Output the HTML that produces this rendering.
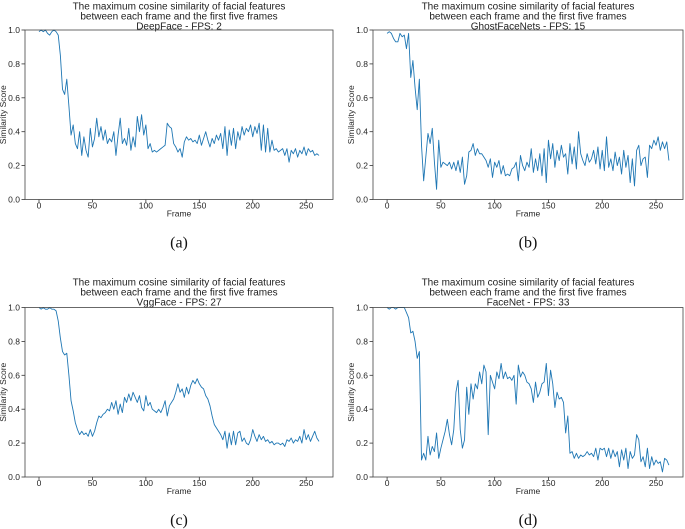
<!DOCTYPE html>
<html><head><meta charset="utf-8"><style>
html,body{margin:0;padding:0;background:#fff;}
svg{display:block;font-family:"Liberation Sans","DejaVu Sans",sans-serif;}
</style></head><body>
<svg id="chart" width="685" height="529" viewBox="0 0 685 529" xmlns="http://www.w3.org/2000/svg"></svg>
<script>
const yTicks = [0.0, 0.2, 0.4, 0.6, 0.8, 1.0];
const xTicks = [0, 50, 100, 150, 200, 250];
const frameStep = 2;
const deepFace = [0.99,1.0,0.99,1.0,0.98,0.97,0.99,1.0,0.99,0.97,
0.85,0.65,0.62,0.71,0.55,0.38,0.44,0.33,0.30,0.40,
0.26,0.37,0.29,0.25,0.42,0.31,0.36,0.48,0.37,0.43,
0.35,0.41,0.33,0.36,0.34,0.40,0.26,0.38,0.48,0.33,
0.36,0.32,0.42,0.29,0.37,0.31,0.49,0.40,0.50,0.38,
0.44,0.30,0.33,0.28,0.29,0.28,0.29,0.30,0.31,0.32,
0.45,0.43,0.42,0.33,0.31,0.28,0.30,0.25,0.34,0.37,
0.35,0.36,0.34,0.35,0.33,0.38,0.32,0.36,0.40,0.35,
0.31,0.36,0.33,0.38,0.35,0.39,0.30,0.43,0.26,0.41,
0.32,0.42,0.30,0.40,0.35,0.43,0.38,0.42,0.40,0.44,
0.37,0.43,0.39,0.45,0.29,0.44,0.28,0.42,0.28,0.35,
0.29,0.30,0.28,0.29,0.30,0.26,0.30,0.22,0.29,0.27,
0.30,0.25,0.29,0.27,0.31,0.26,0.30,0.28,0.29,0.26,
0.27,0.26];
const ghostFaceNets = [0.98,0.99,0.98,0.95,0.93,0.93,0.98,0.96,0.97,0.89,
0.98,0.72,0.82,0.66,0.53,0.71,0.32,0.11,0.25,0.39,
0.33,0.42,0.22,0.06,0.35,0.19,0.22,0.21,0.20,0.22,
0.18,0.22,0.17,0.23,0.16,0.25,0.09,0.14,0.28,0.29,
0.33,0.26,0.30,0.27,0.27,0.25,0.23,0.19,0.24,0.13,
0.22,0.19,0.23,0.15,0.20,0.14,0.15,0.14,0.18,0.19,
0.22,0.11,0.26,0.20,0.17,0.22,0.19,0.30,0.16,0.24,
0.17,0.27,0.14,0.30,0.10,0.35,0.24,0.33,0.19,0.29,
0.23,0.32,0.25,0.27,0.15,0.33,0.21,0.31,0.18,0.40,
0.27,0.23,0.20,0.27,0.22,0.24,0.29,0.21,0.31,0.18,
0.29,0.17,0.37,0.19,0.24,0.17,0.28,0.20,0.25,0.15,
0.29,0.19,0.26,0.10,0.24,0.08,0.29,0.32,0.20,0.24,
0.25,0.13,0.32,0.30,0.35,0.32,0.37,0.29,0.34,0.30,
0.34,0.23];
const vggFace = [1.0,0.99,1.0,0.99,0.99,1.0,0.99,0.99,0.98,0.92,
0.82,0.74,0.72,0.73,0.60,0.45,0.39,0.32,0.28,0.25,
0.27,0.25,0.26,0.24,0.28,0.24,0.27,0.32,0.36,0.35,
0.37,0.38,0.40,0.39,0.44,0.40,0.45,0.37,0.43,0.38,
0.47,0.44,0.49,0.45,0.50,0.47,0.44,0.48,0.41,0.39,
0.48,0.42,0.44,0.40,0.39,0.38,0.40,0.38,0.41,0.45,
0.36,0.42,0.44,0.46,0.50,0.55,0.50,0.52,0.47,0.53,
0.49,0.54,0.57,0.55,0.58,0.55,0.53,0.52,0.48,0.46,
0.42,0.36,0.31,0.29,0.27,0.25,0.22,0.27,0.17,0.26,
0.19,0.27,0.19,0.26,0.27,0.21,0.23,0.20,0.19,0.22,
0.28,0.24,0.21,0.25,0.22,0.24,0.21,0.22,0.20,0.21,
0.19,0.20,0.20,0.19,0.20,0.18,0.22,0.21,0.23,0.20,
0.22,0.21,0.24,0.20,0.28,0.22,0.25,0.21,0.24,0.27,
0.23,0.21];
const faceNet = [1,0.99,1,1,0.99,1,1,1,1,0.97,
0.94,0.85,0.86,0.80,0.70,0.74,0.10,0.14,0.10,0.24,
0.13,0.18,0.15,0.26,0.11,0.17,0.22,0.27,0.34,0.25,
0.19,0.28,0.50,0.57,0.28,0.17,0.22,0.53,0.37,0.55,
0.46,0.55,0.52,0.62,0.55,0.66,0.62,0.25,0.60,0.56,
0.52,0.62,0.58,0.67,0.58,0.62,0.58,0.59,0.57,0.60,
0.43,0.66,0.59,0.62,0.60,0.56,0.55,0.52,0.44,0.56,
0.47,0.50,0.55,0.56,0.67,0.48,0.63,0.55,0.41,0.50,
0.46,0.47,0.44,0.26,0.36,0.14,0.15,0.11,0.14,0.11,
0.13,0.12,0.13,0.15,0.13,0.14,0.12,0.17,0.10,0.17,
0.16,0.17,0.12,0.17,0.11,0.16,0.12,0.15,0.06,0.16,
0.10,0.17,0.05,0.15,0.11,0.13,0.25,0.22,0.09,0.12,
0.06,0.17,0.05,0.12,0.07,0.10,0.08,0.09,0.03,0.11,
0.10,0.07];
const modelNames = ["DeepFace - FPS: 2", "GhostFaceNets - FPS: 15", "VggFace - FPS: 27", "FaceNet - FPS: 33"];
const captions = ["(a)", "(b)", "(c)", "(d)"];
const seriesList = [deepFace, ghostFaceNets, vggFace, faceNet];

const NS = "http://www.w3.org/2000/svg";
const svg = document.getElementById("chart");
function mk(tag, attrs, parent, text) {
  const e = document.createElementNS(NS, tag);
  for (const k in attrs) e.setAttribute(k, attrs[k]);
  if (text !== undefined) e.textContent = text;
  parent.appendChild(e);
  return e;
}
const panels = [
  {l: 25, r: 333, t: 30, b: 199.5, ty: 6},
  {l: 373, r: 683, t: 30, b: 199.5, ty: 6},
  {l: 25, r: 333, t: 307.5, b: 477, ty: 282},
  {l: 373, r: 683, t: 307.5, b: 477, ty: 282}
];
const xMin = -13.1, xMax = 275.1;
panels.forEach((p, i) => {
  const data = seriesList[i];
  const g = mk("g", {}, svg);
  
  
  const X = v => p.l + (v - xMin) / (xMax - xMin) * (p.r - p.l);
  const Y = v => p.b - v * (p.b - p.t);
  const cx = (p.l + p.r) / 2;
  const titles = ["The maximum cosine similarity of facial features", "between each frame and the first five frames", modelNames[i]];
  titles.forEach((tx, j) => {
    const t = mk("text", {x: cx, y: p.ty + j * 10 + 3.5, "text-anchor": "middle", "font-size": "10", fill: "#222"}, g, tx);
    
    
  });
  yTicks.forEach(v => {
    const tl = mk("line", {x1: p.l - 3.5, x2: p.l, y1: Y(v), y2: Y(v), stroke: "#333", "stroke-width": 0.8}, g);
    
    
    const tt = mk("text", {x: p.l - 5, y: Y(v) + 3, "text-anchor": "end", "font-size": "8.5", fill: "#262626"}, g, v.toFixed(1));
    
    
  });
  xTicks.forEach(v => {
    const tl = mk("line", {x1: X(v), x2: X(v), y1: p.b, y2: p.b + 3, stroke: "#333", "stroke-width": 0.8}, g);
    
    
    const tt = mk("text", {x: X(v), y: p.b + 9, "text-anchor": "middle", "font-size": "8.5", fill: "#262626"}, g, String(v));
    
    
  });
  const xl = mk("text", {x: cx, y: p.b + 17, "text-anchor": "middle", "font-size": "8.5", fill: "#262626"}, g, "Frame");
  
  
  const ym = (p.t + p.b) / 2;
  const yx = p.l - 19;
  const yl = mk("text", {x: yx, y: ym, "text-anchor": "middle", "font-size": "8.5", fill: "#262626", transform: "rotate(-90 " + yx + " " + ym + ")"}, g, "Similarity Score");
  
  
  const pts = data.map((v, k) => X(k * frameStep).toFixed(2) + "," + Y(v).toFixed(2)).join(" ");
  const line = mk("polyline", {points: pts, fill: "none", stroke: "#1f77b4", "stroke-width": 0.9, "stroke-linejoin": "round"}, g);
  
  
  const fr = mk("rect", {x: p.l, y: p.t, width: p.r - p.l, height: p.b - p.t, fill: "none", stroke: "#444", "stroke-width": 0.8}, g);
  
  
  const cap = mk("text", {x: cx, y: p.b + 48, "text-anchor": "middle", "font-size": "16", fill: "#111", "font-family": "Liberation Serif, DejaVu Serif, serif"}, g, captions[i]);
  
  
});
</script>
</body></html>
